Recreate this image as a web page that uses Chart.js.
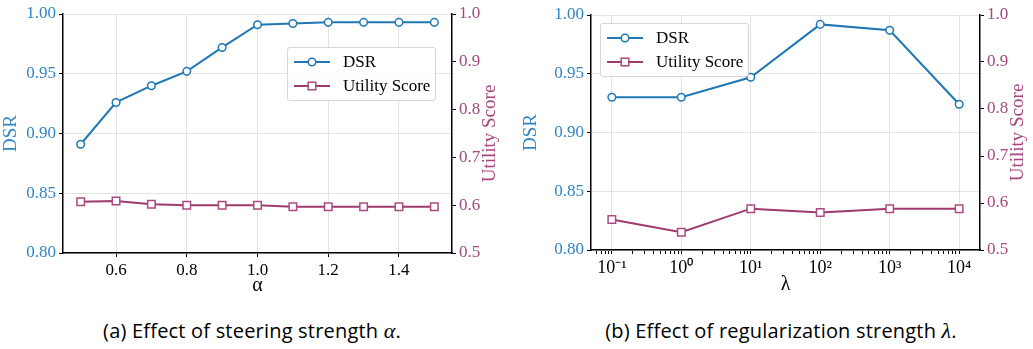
<!DOCTYPE html>
<html>
<head>
<meta charset="utf-8">
<script src="https://cdn.jsdelivr.net/npm/chart.js@4"></script>
<style>
  body { margin: 0; background: #fff; width: 1033px; height: 349px; position: relative; overflow: hidden; }
  .box { position: absolute; top: 0; height: 300px; }
  .legend { position: absolute; background: rgba(255,255,255,0.85); border: 1px solid #d6d6d6; border-radius: 3px;
            font: 17px "Liberation Serif", serif; color: #000; padding: 2px 0; }
  .legend div { height: 24px; display: flex; align-items: center; }
  .legend svg { margin: 0 13px 0 6px; }
  .cap { position: absolute; top: 318px; font: 20px "Open Sans", sans-serif; letter-spacing: 0.2px; color: #000; text-align: center; width: 500px; line-height: 26px; }
  .cap i { font-family: "Liberation Serif", serif; font-size: 22px; }
</style>
</head>
<body>
<div class="box" style="left:0;width:516px"><canvas id="chartA" width="516" height="300"></canvas></div>
<div class="box" style="left:520px;width:513px"><canvas id="chartB" width="513" height="300"></canvas></div>

<div class="legend" style="left:287px;top:47px;width:147px">
  <div><svg width="36" height="12"><line x1="0" y1="6" x2="36" y2="6" stroke="#1f77b4" stroke-width="2"/><circle cx="18" cy="6" r="3.8" fill="#fff" stroke="#1f77b4" stroke-width="1.5"/></svg>DSR</div>
  <div><svg width="36" height="12"><line x1="0" y1="6" x2="36" y2="6" stroke="#9e3a6e" stroke-width="2"/><rect x="14.2" y="2.2" width="7.6" height="7.6" fill="#fff" stroke="#ab4a82" stroke-width="1.5"/></svg>Utility Score</div>
</div>
<div class="legend" style="left:600px;top:23px;width:147px">
  <div><svg width="36" height="12"><line x1="0" y1="6" x2="36" y2="6" stroke="#1f77b4" stroke-width="2"/><circle cx="18" cy="6" r="3.8" fill="#fff" stroke="#1f77b4" stroke-width="1.5"/></svg>DSR</div>
  <div><svg width="36" height="12"><line x1="0" y1="6" x2="36" y2="6" stroke="#9e3a6e" stroke-width="2"/><rect x="14.2" y="2.2" width="7.6" height="7.6" fill="#fff" stroke="#ab4a82" stroke-width="1.5"/></svg>Utility Score</div>
</div>

<div class="cap" style="left:2px">(a) Effect of steering strength <i>α</i>.</div>
<div class="cap" style="left:531px">(b) Effect of regularization strength <i>λ</i>.</div>

<script>
// data
const alphaVals = [0.5, 0.6, 0.7, 0.8, 0.9, 1.0, 1.1, 1.2, 1.3, 1.4, 1.5];
const dsrAlpha = [0.891, 0.926, 0.940, 0.952, 0.972, 0.991, 0.992, 0.993, 0.993, 0.993, 0.993];
const utilAlpha = [0.607, 0.609, 0.602, 0.600, 0.600, 0.600, 0.597, 0.597, 0.597, 0.597, 0.597];

const lambdaVals = [0.1, 1, 10, 100, 1000, 10000];
const dsrLambda = [0.930, 0.930, 0.947, 0.992, 0.987, 0.924];
const utilLambda = [0.565, 0.538, 0.588, 0.580, 0.588, 0.588];

const alphaTicks = [0.6, 0.8, 1.0, 1.2, 1.4];
const lambdaTicks = [0.1, 1, 10, 100, 1000, 10000];
const lambdaLabels = ['10⁻¹', '10⁰', '10¹', '10²', '10³', '10⁴'];
const dsrTicks = [0.80, 0.85, 0.90, 0.95, 1.00];
const utilTicks = [0.5, 0.6, 0.7, 0.8, 0.9, 1.0];

const BLUE = '#1f77b4', BLUE_TXT = '#2f86c6';
const PURPLE = '#9e3a6e', PURPLE_PT = '#ab4a82', PURPLE_TXT = '#a8477f';
const SERIF = "'Liberation Serif', serif";

Chart.defaults.font.family = SERIF;
Chart.defaults.font.size = 17;
Chart.defaults.color = '#000';

const rightTitle = {
  id: 'rightTitle',
  afterDraw(chart) {
    const a = chart.chartArea, ctx = chart.ctx;
    ctx.save();
    ctx.translate(a.right + 38, (a.top + a.bottom) / 2);
    ctx.rotate(-Math.PI / 2);
    ctx.textAlign = 'center';
    ctx.textBaseline = 'middle';
    ctx.fillStyle = PURPLE_TXT;
    ctx.font = '19px ' + SERIF;
    ctx.fillText('Utility Score', 0, 0);
    ctx.restore();
  }
};

function pts(xs, ys) { return xs.map((x, i) => ({x: x, y: ys[i]})); }

function datasets(xs, dsr, util) {
  return [{
    label: 'DSR', data: pts(xs, dsr), yAxisID: 'y',
    borderColor: BLUE, borderWidth: 2, pointStyle: 'circle', pointRadius: 3.8,
    pointBorderWidth: 1.5, pointBackgroundColor: '#fff', pointBorderColor: BLUE
  }, {
    label: 'Utility Score', data: pts(xs, util), yAxisID: 'y2',
    borderColor: PURPLE, borderWidth: 2, pointStyle: 'rect', pointRadius: 5.3,
    pointBorderWidth: 1.5, pointBackgroundColor: '#fff', pointBorderColor: PURPLE_PT
  }];
}

const GRID = '#dcdcdc';

function yScales(leftW, rightW) {
  return {
    y: {
      min: 0.8, max: 1.0,
      afterBuildTicks: s => { s.ticks = dsrTicks.map(v => ({value: v})); },
      afterFit: s => { s.width = leftW; },
      ticks: { color: BLUE_TXT, font: { family: SERIF, size: 17 }, padding: 3, callback: v => v.toFixed(2) },
      grid: { color: GRID, lineWidth: 0.8, tickColor: '#000', tickLength: 4, tickWidth: 1 },
      border: { color: '#000', width: 1.5 },
      title: { display: true, text: 'DSR', color: BLUE_TXT, font: { family: SERIF, size: 19 }, padding: { top: 0, bottom: 0 } }
    },
    y2: {
      position: 'right', min: 0.5, max: 1.0,
      afterBuildTicks: s => { s.ticks = utilTicks.map(v => ({value: v})); },
      afterFit: s => { s.width = rightW; },
      ticks: { color: PURPLE_TXT, font: { family: SERIF, size: 17 }, padding: 3, callback: v => v.toFixed(1) },
      grid: { drawOnChartArea: false, tickColor: '#000', tickLength: 4, tickWidth: 1 },
      border: { color: '#000', width: 1.5 }
    }
  };
}

function draw() {
  new Chart(document.getElementById('chartA'), {
    type: 'line',
    data: { datasets: datasets(alphaVals, dsrAlpha, utilAlpha) },
    plugins: [rightTitle],
    options: {
      responsive: false, animation: false,
      layout: { padding: { top: 14, left: 0, right: 0, bottom: 0 } },
      plugins: { legend: { display: false }, tooltip: { enabled: false } },
      scales: Object.assign({
        x: {
          type: 'linear', min: 0.45, max: 1.55,
          afterBuildTicks: s => { s.ticks = alphaTicks.map(v => ({value: v})); },
          afterFit: s => { s.height = 47; },
          ticks: { font: { family: SERIF, size: 17 }, color: '#000', padding: 3, maxRotation: 0, callback: v => v.toFixed(1) },
          grid: { color: GRID, lineWidth: 0.8, tickColor: '#000', tickLength: 4, tickWidth: 1 },
          border: { color: '#000', width: 1.5 },
          title: { display: true, text: 'α', color: '#000', font: { family: SERIF, size: 20 }, padding: { top: 0, bottom: 2 } }
        }
      }, yScales(63, 64))
    }
  });

  new Chart(document.getElementById('chartB'), {
    type: 'line',
    data: { datasets: datasets(lambdaVals, dsrLambda, utilLambda) },
    plugins: [rightTitle],
    options: {
      responsive: false, animation: false,
      layout: { padding: { top: 15, left: 0, right: 0, bottom: 0 } },
      plugins: { legend: { display: false }, tooltip: { enabled: false } },
      scales: Object.assign({
        x: {
          type: 'logarithmic', min: Math.pow(10, -1.3), max: Math.pow(10, 4.3),
          afterBuildTicks: s => {
            const t = [];
            for (let e = -2; e <= 4; e++) {
              for (let m = 1; m <= 9; m++) {
                const v = m * Math.pow(10, e);
                if (v >= s.min && v <= s.max) t.push({value: v});
              }
            }
            s.ticks = t;
          },
          afterFit: s => { s.height = 50; },
          ticks: {
            autoSkip: false, maxRotation: 0, padding: 3, font: { family: SERIF, size: 18 }, color: '#000',
            callback: v => {
              const i = lambdaTicks.findIndex(d => Math.abs(d - v) / d < 1e-6);
              return i >= 0 ? lambdaLabels[i] : '';
            }
          },
          grid: {
            lineWidth: 0.8, tickColor: '#000', tickLength: 4, tickWidth: 1,
            color: c => {
              const v = c.tick ? c.tick.value : 0;
              return lambdaTicks.some(d => Math.abs(d - v) / d < 1e-6) ? GRID : 'rgba(0,0,0,0)';
            }
          },
          border: { color: '#000', width: 1.5 },
          title: { display: true, text: 'λ', color: '#000', font: { family: SERIF, size: 20 }, padding: { top: 0, bottom: 3 } }
        }
      }, yScales(71, 53))
    }
  });
}

if (document.fonts && document.fonts.ready) document.fonts.ready.then(draw); else draw();
</script>
</body>
</html>
